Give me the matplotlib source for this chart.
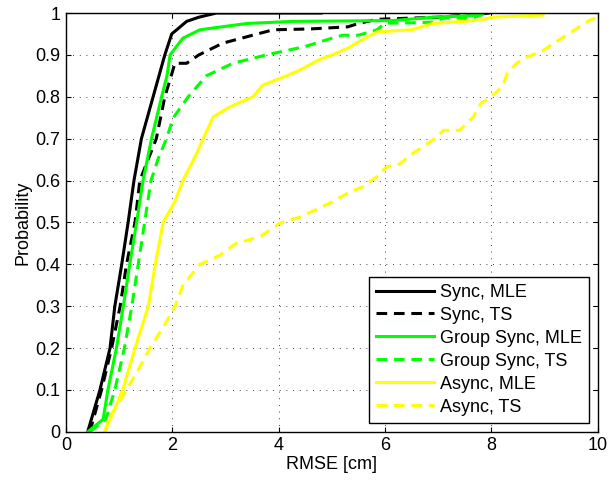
import matplotlib
matplotlib.use("Agg")
import matplotlib.pyplot as plt

plt.rcParams['font.family'] = ['Liberation Sans', 'DejaVu Sans']

# Empirical CDF knots (RMSE in cm, cumulative probability)
sync_mle_x = [0.41, 0.64, 0.83, 0.92, 1.05, 1.17, 1.28, 1.42, 1.64, 1.86, 1.99, 2.27, 2.5, 2.83, 4.8]
sync_mle_y = [0.0, 0.1, 0.2, 0.3, 0.4, 0.5, 0.6, 0.7, 0.8, 0.9, 0.95, 0.98, 0.99, 1.0, 1.0]

sync_ts_x = [0.45, 0.67, 0.86, 1.02, 1.14, 1.3, 1.39, 1.7, 1.86, 1.98, 2.05, 2.27, 2.5, 2.95, 3.6,
             3.9, 4.6, 5.3, 5.5, 5.85, 7.0, 7.97]
sync_ts_y = [0.0, 0.1, 0.2, 0.3, 0.4, 0.5, 0.6, 0.7, 0.8, 0.85, 0.88, 0.88, 0.9, 0.928, 0.95,
             0.96, 0.962, 0.967, 0.975, 0.985, 0.99, 1.0]

group_mle_x = [0.41, 0.7, 0.79, 0.95, 1.08, 1.2, 1.33, 1.45, 1.61, 1.8, 1.9, 1.96, 2.2, 2.52, 3.4,
               4.27, 6.15, 6.9, 7.8, 7.85]
group_mle_y = [0.0, 0.03, 0.1, 0.2, 0.3, 0.4, 0.5, 0.6, 0.7, 0.8, 0.85, 0.9, 0.94, 0.96, 0.975,
               0.98, 0.982, 0.99, 0.995, 1.0]

group_ts_x = [0.45, 0.75, 0.92, 1.1, 1.24, 1.36, 1.48, 1.6, 1.73, 1.89, 2.02, 2.3, 2.64, 3.14, 3.77,
              4.5, 4.9, 5.2, 5.5, 5.85, 6.0, 6.3, 6.9, 7.1, 7.65, 7.9]
group_ts_y = [0.0, 0.03, 0.1, 0.2, 0.3, 0.4, 0.5, 0.6, 0.65, 0.7, 0.75, 0.8, 0.85, 0.88, 0.9,
              0.92, 0.936, 0.947, 0.947, 0.96, 0.976, 0.976, 0.978, 0.988, 0.988, 1.0]

async_mle_x = [0.73, 1.07, 1.3, 1.55, 1.68, 1.83, 2.05, 2.2, 2.46, 2.58, 2.77, 3.08, 3.52, 3.7, 4.15,
               4.4, 4.75, 5.0, 5.3, 5.55, 5.85, 6.5, 6.9, 7.8, 8.0, 8.97]
async_mle_y = [0.0, 0.1, 0.2, 0.3, 0.4, 0.5, 0.55, 0.6, 0.665, 0.7, 0.752, 0.776, 0.8, 0.828, 0.85,
               0.864, 0.888, 0.9, 0.916, 0.935, 0.955, 0.96, 0.975, 0.983, 0.99, 0.995]

async_ts_x = [0.73, 0.8, 1.14, 1.39, 1.58, 1.83, 2.05, 2.2, 2.52, 2.9, 3.2, 3.65, 4.02, 4.4, 4.96,
              5.34, 5.58, 5.84, 6.03, 6.28, 6.52, 6.9, 7.1, 7.4, 7.66, 7.8, 8.0, 8.2, 8.3, 8.47,
              8.69, 8.97, 9.16, 9.41, 9.6, 9.85, 10.2]
async_ts_y = [0.0, 0.03, 0.1, 0.155, 0.2, 0.25, 0.3, 0.35, 0.4, 0.422, 0.45, 0.466, 0.498, 0.513, 0.546,
              0.573, 0.585, 0.609, 0.633, 0.64, 0.665, 0.697, 0.72, 0.72, 0.752, 0.784, 0.8, 0.824,
              0.856, 0.88, 0.896, 0.91, 0.927, 0.947, 0.963, 0.983, 1.0]

series = [
    ("Sync, MLE", sync_mle_x, sync_mle_y, "black", "-"),
    ("Sync, TS", sync_ts_x, sync_ts_y, "black", "--"),
    ("Group Sync, MLE", group_mle_x, group_mle_y, "#00ff00", "-"),
    ("Group Sync, TS", group_ts_x, group_ts_y, "#00ff00", "--"),
    ("Async, MLE", async_mle_x, async_mle_y, "#ffff00", "-"),
    ("Async, TS", async_ts_x, async_ts_y, "#ffff00", "--"),
]

fig = plt.figure(figsize=(6.1, 4.82), dpi=100)
ax = fig.add_axes([0.108, 0.104, 0.872, 0.869])

for label, xs, ys, color, ls in series:
    kw = dict(dashes=(3.5, 2.2)) if ls == "--" else {}
    ax.plot(xs, ys, color=color, linestyle=ls, linewidth=2.2, label=label, **kw)

ax.set_xlim(0, 10)
ax.set_ylim(0, 1)
ax.set_xticks([0, 2, 4, 6, 8, 10])
ax.set_yticks([i / 10 for i in range(11)])
ax.set_yticklabels(["0", "0.1", "0.2", "0.3", "0.4", "0.5", "0.6", "0.7", "0.8", "0.9", "1"])
ax.grid(True, color="black", linestyle=(0, (1, 7)), linewidth=0.6)
ax.tick_params(direction="in", top=True, right=True, labelsize=13, length=3.5, width=0.8, pad=4)
for sp in ax.spines.values():
    sp.set_linewidth(1.0)
ax.set_xlabel("RMSE [cm]", fontsize=13, labelpad=1)
ax.set_ylabel("Probability", fontsize=13, labelpad=3)

leg = ax.legend(loc="lower right", fontsize=13, frameon=True, fancybox=False,
                edgecolor="black", framealpha=1, handlelength=3.2, borderaxespad=0.5,
                labelspacing=0.33, handletextpad=0.3, borderpad=0.4)
leg.get_frame().set_linewidth(1.0)

fig.savefig("out.png", dpi=100)
